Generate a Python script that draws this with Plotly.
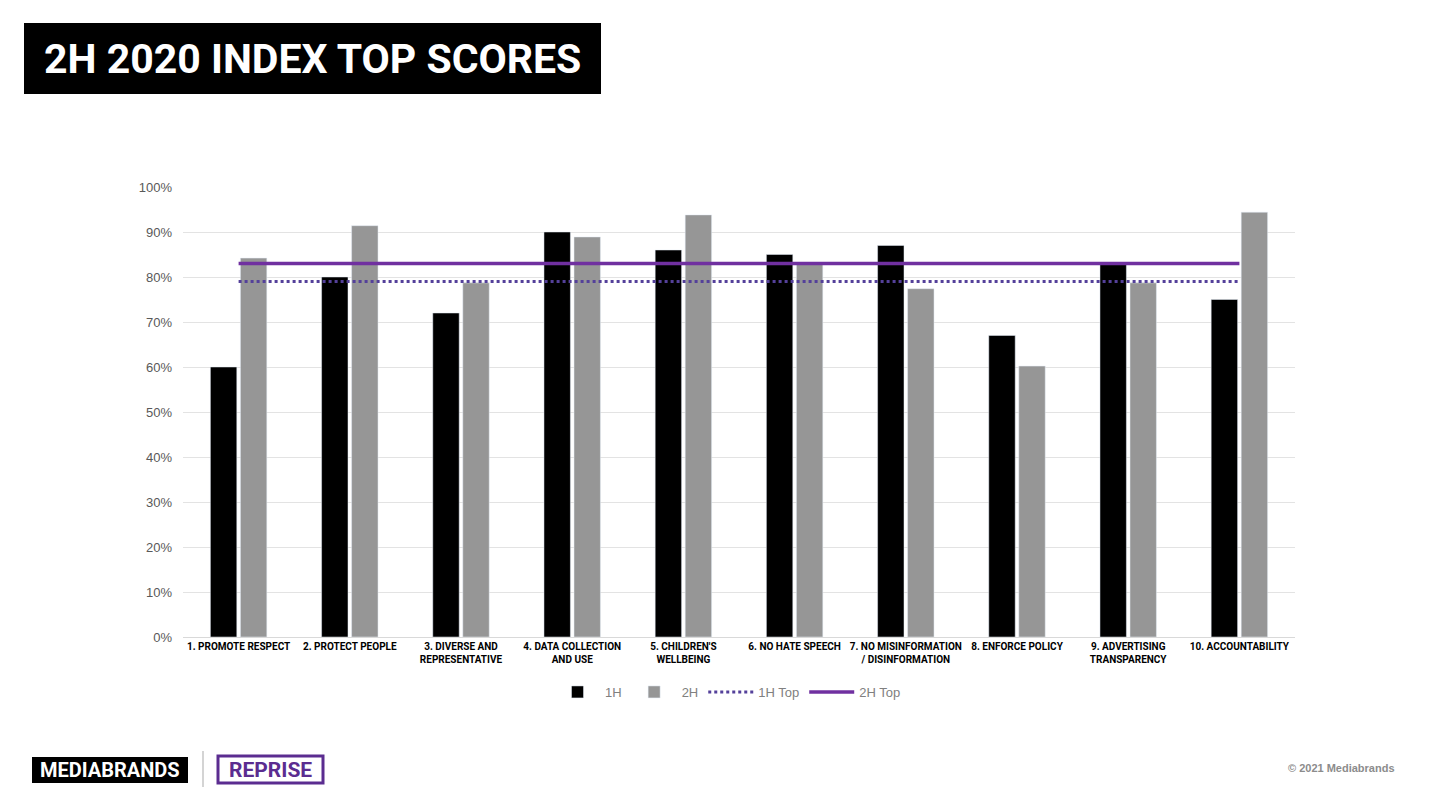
import plotly.graph_objects as go

categories = [
    "1. PROMOTE RESPECT",
    "2. PROTECT PEOPLE",
    "3. DIVERSE AND<br>REPRESENTATIVE",
    "4. DATA COLLECTION<br>AND USE",
    "5. CHILDREN'S<br>WELLBEING",
    "6. NO HATE SPEECH",
    "7. NO MISINFORMATION<br>/ DISINFORMATION",
    "8. ENFORCE POLICY",
    "9. ADVERTISING<br>TRANSPARENCY",
    "10. ACCOUNTABILITY",
]
h1_values = [0.60, 0.80, 0.72, 0.90, 0.86, 0.85, 0.87, 0.67, 0.83, 0.75]
h2_values = [0.842, 0.914, 0.787, 0.889, 0.938, 0.831, 0.774, 0.602, 0.787, 0.944]
h1_top = [0.79] * len(categories)
h2_top = [0.83] * len(categories)
y_ticks = [0, 0.1, 0.2, 0.3, 0.4, 0.5, 0.6, 0.7, 0.8, 0.9, 1.0]

OFF = 8  # page body margin
W, H = 1440 - 2 * OFF, 810 - 2 * OFF
BOLD = "Roboto, Liberation Sans, Arial, sans-serif"
PURPLE = "#7030A0"

def px(x):
    return (x - OFF) / W

def py(y):
    return 1 - (y - OFF) / H

fig = go.Figure()
fig.add_trace(go.Bar(name="1H", x=categories, y=h1_values, marker_color="#000000"))
fig.add_trace(go.Bar(name="2H", x=categories, y=h2_values, marker_color="#969696"))
fig.add_trace(go.Scatter(name="1H Top", x=categories, y=h1_top, mode="lines",
                         line=dict(color="#54409A", width=3, dash="dot")))
fig.add_trace(go.Scatter(name="2H Top", x=categories, y=h2_top, mode="lines",
                         line=dict(color=PURPLE, width=3.5)))

fig.update_layout(
    width=W, height=H,
    margin=dict(l=0, r=0, t=0, b=0),
    paper_bgcolor="white", plot_bgcolor="white",
    barmode="group", bargap=0.46, bargroupgap=0.12,
    showlegend=True,
    legend=dict(orientation="h", x=px(728), xanchor="center", y=py(692), yanchor="middle",
                font=dict(family="Liberation Sans, Arial, sans-serif", size=13, color="#808080"),
                itemwidth=45, traceorder="normal"),
    xaxis=dict(domain=[px(183), px(1295)],
               tickfont=dict(family=BOLD, size=10, color="#000000", weight="bold"),
               showgrid=False, showline=True, linecolor="#d9d9d9", linewidth=1,
               ticks="", automargin=False, tickangle=0),
    yaxis=dict(domain=[py(637), py(187)], range=[0, 1.0], tickvals=y_ticks,
               tickformat=".0%", tickfont=dict(family="Liberation Sans, Arial, sans-serif",
                                               size=13, color="#595959"),
               showgrid=True, gridcolor="#e3e3e3", gridwidth=1, zeroline=False,
               ticks="", ticklen=0, automargin=False, ticklabelstandoff=10),
    font=dict(family="Liberation Sans, Arial, sans-serif"),
)

shapes = [
    dict(type="rect", xref="paper", yref="paper", x0=px(24), x1=px(601), y0=py(94), y1=py(23),
         fillcolor="#000000", line=dict(width=0), layer="above"),
    dict(type="rect", xref="paper", yref="paper", x0=px(32), x1=px(188), y0=py(783), y1=py(757),
         fillcolor="#000000", line=dict(width=0), layer="above"),
    dict(type="line", xref="paper", yref="paper", x0=px(203), x1=px(203), y0=py(787), y1=py(751),
         line=dict(color="#a9a9a9", width=1), layer="above"),
    dict(type="rect", xref="paper", yref="paper", x0=px(218), x1=px(323), y0=py(783), y1=py(756),
         fillcolor="white", line=dict(color="#5B2C90", width=3), layer="above"),
]
annotations = [
    dict(text="<b>2H 2020 INDEX TOP SCORES</b>", xref="paper", yref="paper",
         x=px(312), y=py(59), xanchor="center", yanchor="middle", showarrow=False,
         font=dict(family=BOLD, size=41, color="white")),
    dict(text="<b>MEDIABRANDS</b>", xref="paper", yref="paper",
         x=px(110), y=py(770), xanchor="center", yanchor="middle", showarrow=False,
         font=dict(family=BOLD, size=20, color="white")),
    dict(text="<b>REPRISE</b>", xref="paper", yref="paper",
         x=px(270.5), y=py(770), xanchor="center", yanchor="middle", showarrow=False,
         font=dict(family=BOLD, size=21, color="#5B2C90")),
    dict(text="<b>© 2021 Mediabrands</b>", xref="paper", yref="paper",
         x=px(1397), y=py(768), xanchor="right", yanchor="middle", showarrow=False,
         font=dict(family="Liberation Sans, Arial, sans-serif", size=11, color="#8c8c8c")),
]
fig.update_layout(shapes=shapes, annotations=annotations)

fig.write_html("out.html")
